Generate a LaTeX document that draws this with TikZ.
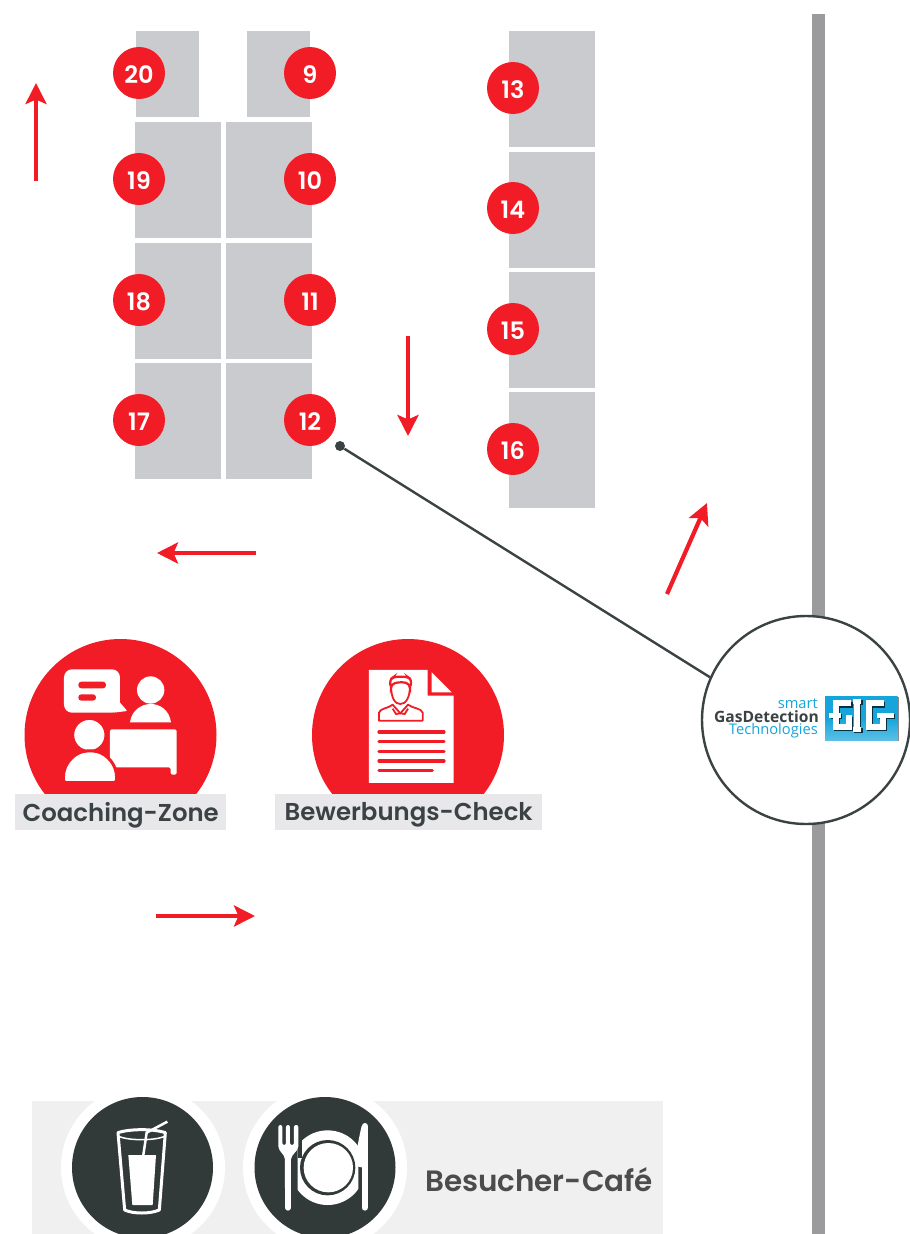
\documentclass[tikz,border=0pt]{standalone}
\usepackage{fontspec}
\setmainfont{Poppins}[BoldFont={Poppins SemiBold}]
\newfontfamily\logofont{Open Sans}
\usetikzlibrary{arrows.meta, positioning, calc}
\definecolor{gigred}{HTML}{F21C26}
\definecolor{boothgray}{HTML}{CACBCF}
\definecolor{bargray}{HTML}{9B9B9D}
\definecolor{labelgray}{HTML}{E8E8EA}
\definecolor{darktext}{HTML}{3A4243}
\definecolor{cafegray}{HTML}{F0F0F0}
\definecolor{cafedark}{HTML}{323A39}
\definecolor{gigblue}{HTML}{16A5DA}
\begin{document}
\begin{tikzpicture}[x=1pt, y=-1pt,
    booth/.style={fill=boothgray, draw=none, inner sep=0pt, anchor=north west, minimum width=86pt, minimum height=116pt},
    smallbooth/.style={booth, minimum width=63pt, minimum height=86pt},
    standno/.style={circle, fill=gigred, text=white, inner sep=0pt, minimum size=52pt, text height=20pt, text depth=0pt, font=\fontsize{24}{24}\selectfont\bfseries},
    zonelabel/.style={fill=labelgray, inner sep=0pt, minimum height=36pt},
    zonetext/.style={text=darktext, inner sep=0pt, font=\fontsize{24.4}{24}\selectfont\bfseries},
    walk/.style={gigred, line width=4.2pt, -{Stealth[length=21pt, width=21pt, inset=4.5pt]}},
    logotext/.style={anchor=east, inner sep=0pt, font=\fontsize{14.7}{14}\logofont}
]
\useasboundingbox (0,0) rectangle (910,1234);

% Wall
\fill[bargray] (812,14) rectangle (825,1234);

% Booths
\node[smallbooth] (b20) at (136,31) {};
\node[smallbooth] (b9) at (247,31) {};
\node[booth] (b19) at (135,122) {};
\node[booth] (b10) at (226,122) {};
\node[booth] (b18) at (135,243) {};
\node[booth] (b11) at (226,243) {};
\node[booth] (b17) at (135,363) {};
\node[booth] (b12) at (226,363) {};
\node[booth] (b13) at (509,31) {};
\node[booth] (b14) at (509,152) {};
\node[booth] (b15) at (509,272) {};
\node[booth] (b16) at (509,392) {};

% Stand numbers
\foreach \n/\x/\y in {20/139/73, 9/310/73, 19/139/179, 10/310/179, 18/139/300, 11/310/300, 17/139/420, 12/310/420, 13/513/88, 14/513/208, 15/513/329, 16/513/449} {
    \node[standno] (s\n) at (\x,\y) {\n};
}

% Walking direction
\coordinate (w1a) at (36,181);
\coordinate (w1b) at (36,83);
\coordinate (w2a) at (408,336);
\coordinate (w2b) at (408,436);
\coordinate (w3a) at (256,553);
\coordinate (w3b) at (157,553);
\coordinate (w4a) at (156,916);
\coordinate (w4b) at (255,916);
\coordinate (w5a) at (667,594);
\coordinate (w5b) at (707,503);
\foreach \w in {w1,w2,w3,w4,w5} {
    \draw[walk] (\w a) -- (\w b);
}

% Logo circle and its pointer
\node[circle, fill=darktext, inner sep=0pt, minimum size=10pt] (dot12) at (340,446) {};
\node[circle, draw=darktext, fill=white, line width=2.4pt, inner sep=0pt, minimum size=208pt] (gig) at (806,720) {};
\draw[darktext, line width=2.4pt] (dot12) -- (gig.156);

\node[logotext, text=gigblue] (smart) at (818,704) {smart};
\node[logotext, text=darktext, font=\fontsize{15.6}{14}\logofont\bfseries] (gasdet) at (819,716.5) {GasDetection};
\node[logotext, text=gigblue] (techno) at (818,731) {Technologies};

\begin{scope}[shift={(820,690)}, scale=1/3]
    \fill[black!45] (18,20) rectangle (236,154);
    \shade[top color=gigblue, bottom color=gigblue!70!white, middle color=gigblue] (15,18) rectangle (233,151);
    % letters: shadow first, then white
    \foreach \c/\d in {black!70!gigblue/4, white/0} {
        \begin{scope}[shift={(\d,\d)}, draw=\c, line width=6pt, line cap=butt]
            \draw (94,40) -- (48,40) -- (48,110) -- (86,110) -- (86,76);
            \draw[line width=5pt] (28,76) -- (62,76);
            \draw[line width=5pt] (98,33) -- (124,33);
            \draw[line width=5pt] (98,117) -- (124,117);
            \draw (111,30) -- (111,120);
            \draw (192,40) -- (146,40) -- (146,110) -- (188,110) -- (188,76);
            \draw[line width=5pt] (172,76) -- (222,76);
        \end{scope}
    }
\end{scope}

% Coaching zone
\begin{scope}
    \clip (0,600) rectangle (300,794);
    \fill[gigred] (120.5,735) circle (96);
\end{scope}
\begin{scope}[scale=1/3, shift={(0,1890)}]
    \fill[white, rounded corners=8pt] (192,118) rectangle (360,248);
    \fill[white, rounded corners=1pt] (340,195) -- (382,243) -- (340,248) -- cycle;
    \fill[gigred, rounded corners=3pt] (235,155) rectangle (318,175);
    \fill[gigred, rounded corners=3pt] (235,193) rectangle (288,212);
    \fill[white] (452,180) circle (41);
    \fill[white] (390,277) .. controls (395,240) and (425,222) .. (452,222) .. controls (480,222) and (508,240) .. (513,277) -- cycle;
    \fill[white, rounded corners=2pt] (330,298) -- (530,298) -- (530,434) -- (512,434) -- (512,412) -- (330,412) -- cycle;
    \fill[white, draw=gigred, line width=3pt] (268,315) circle (50);
    \fill[white, draw=gigred, line width=3pt, rounded corners=3pt] (190,458) -- (190,440) .. controls (195,395) and (230,363) .. (270,363) .. controls (310,363) and (345,395) .. (350,440) -- (350,458) -- cycle;
    \fill[gigred] (180,458) rectangle (360,490);
\end{scope}
\node[zonelabel, minimum width=211pt, anchor=north west] (coaching) at (15,794) {};
\node[zonetext] (coachingtext) at ([yshift=-3pt]coaching.center) {Coaching-Zone};

% Application check
\begin{scope}
    \clip (300,600) rectangle (520,794);
    \fill[gigred] (408,735) circle (96);
\end{scope}
\begin{scope}[scale=1/3, shift={(810,1890)}]
    \fill[white] (297,120) -- (473,120) -- (473,197) -- (551,197) -- (551,459) -- (297,459) -- cycle;
    \fill[white] (485,127) -- (545,187) -- (485,187) -- cycle;
    \draw[gigred, line width=1.8pt, line join=round] (327,272) -- (327,248) .. controls (330,235) and (355,235) .. (368,224) -- (391,250) -- (414,224) .. controls (428,235) and (455,235) .. (458,248) -- (458,272) -- cycle;
    \draw[gigred, line width=1.8pt] (391,250) -- (378,252) -- (368,236);
    \draw[gigred, line width=1.8pt] (391,250) -- (404,252) -- (414,236);
    \draw[gigred, line width=1.8pt] (363,165) .. controls (363,205) and (375,222) .. (391,222) .. controls (407,222) and (420,205) .. (420,165);
    \draw[gigred, line width=2.2pt, rounded corners=4pt] (363,175) -- (358,150) -- (372,140) -- (412,140) -- (426,150) -- (420,175) -- (420,162) -- (395,155) -- (363,162) -- cycle;
    \foreach \y in {306,335,364,393} {
        \draw[gigred, line width=3.2pt, line cap=round] (327,\y) -- (522,\y);
    }
    \draw[gigred, line width=3.2pt, line cap=round] (327,422) -- (487,422);
\end{scope}
\node[zonelabel, minimum width=267pt, anchor=north west] (check) at (275,794) {};
\node[zonetext] (checktext) at ([yshift=-3pt]check.center) {Bewerbungs-Check};

% Cafe
\fill[cafegray] (32,1101) rectangle (663,1234);
\begin{scope}
    \clip (0,1090) rectangle (700,1234);
    \fill[white] (143,1167.5) circle (82);
    \fill[white] (325,1167.5) circle (82);
    \fill[cafedark] (142.5,1167.5) circle (70.5);
    \fill[cafedark] (325,1167.5) circle (70.5);
\end{scope}
\begin{scope}[shift={(30,1090)}, scale=1/3]
    % glass
    \draw[white, line width=3pt, line join=round, fill=cafedark] (264,128) .. controls (300,116) and (370,116) .. (406,128) -- (388,360) .. controls (360,372) and (310,372) .. (284,360) -- cycle;
    \draw[white, line width=1.5pt] (268,140) .. controls (300,152) and (370,152) .. (402,140);
    \fill[white] (295,195) -- (378,195) -- (368,345) -- (307,345) -- cycle;
    \draw[white, line width=2.5pt] (340,195) -- (350,128) -- (412,95);
    % plate
    \begin{scope}
        \clip (803,100) rectangle (985,360);
        \fill[white] (893,233) circle (112);
    \end{scope}
    \fill[cafedark] (893,233) circle (83);
    \fill[white] (895,233) circle (74);
    % fork
    \fill[cafedark] (803,100) rectangle (815,205);
    \fill[white, rounded corners=2pt] (745,105) -- (757,105) -- (757,165) -- (768,165) -- (768,105) -- (780,105) -- (780,165) -- (792,165) -- (792,105) -- (805,105) -- (805,175) -- (783,202) -- (783,300) -- (765,300) -- (765,202) -- (745,175) -- cycle;
    \draw[white, line width=6pt, line cap=round] (774,200) -- (774,353);
    % knife
    \fill[white] (995,108) .. controls (985,150) and (978,190) .. (978,228) -- (995,232) -- (1013,232) -- (1013,108) -- cycle;
    \draw[white, line width=6pt, line cap=round] (1004,108) -- (1004,353);
\end{scope}
\node[anchor=east, inner sep=0pt, text=black!70, font=\fontsize{29.4}{29}\selectfont\bfseries] (cafe) at (653,1180) {Besucher-Café};
\end{tikzpicture}
\end{document}
